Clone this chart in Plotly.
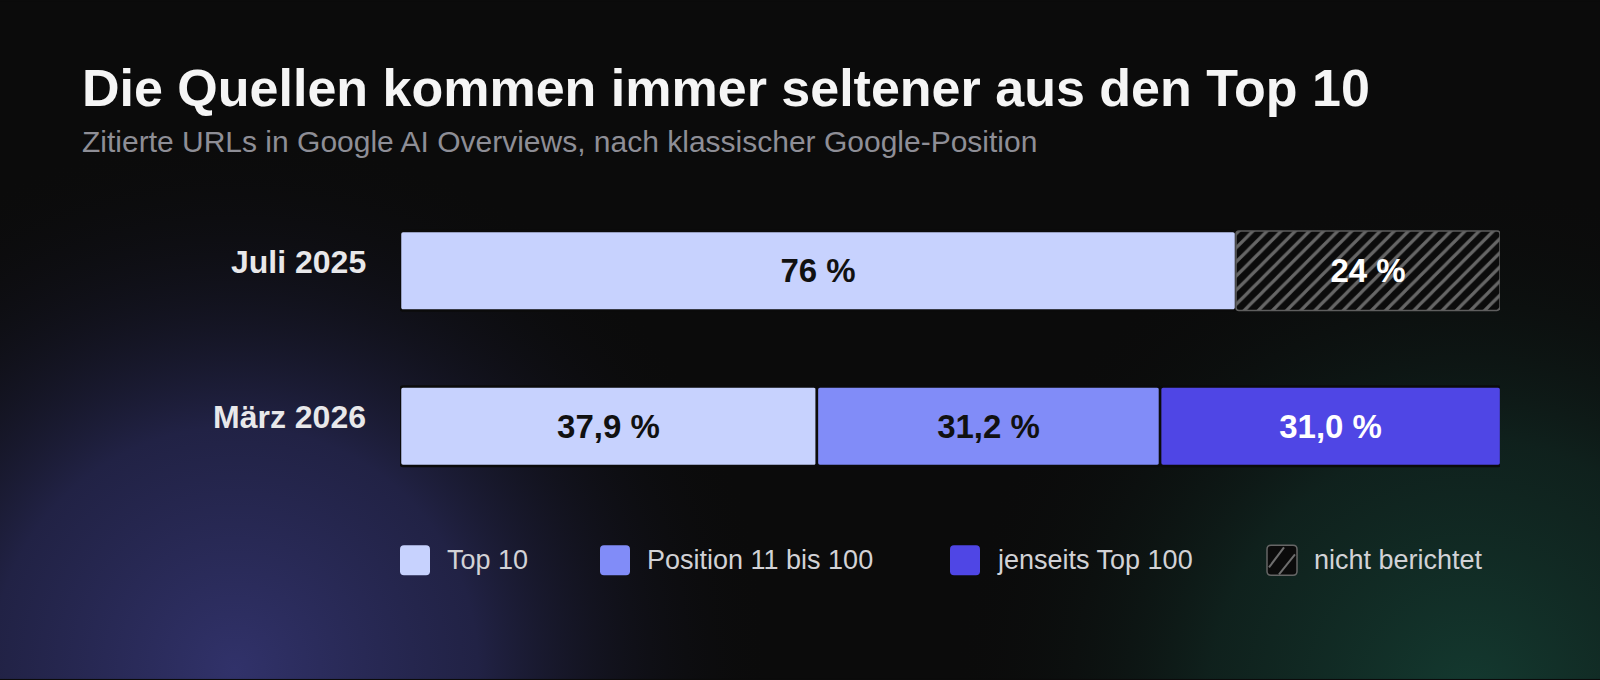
import base64
import numpy as np
import plotly.graph_objects as go

# ---------------- data ----------------
periods = ["Juli 2025", "März 2026"]
top10 = [76.0, 37.9]
pos_11_100 = [0.0, 31.2]
beyond_100 = [0.0, 31.0]
not_reported = [24.0, 0.0]
decimals = [0, 1]  # how each row's values are printed

series_names = ["Top 10", "Position 11 bis 100", "jenseits Top 100", "nicht berichtet"]
series_colors = ["#c7d2fe", "#818cf8", "#4f46e5", "#0b0b0b"]
text_colors = ["#111111", "#111111", "#ffffff", "#ffffff"]

title_text = "Die Quellen kommen immer seltener aus den Top 10"
subtitle_text = "Zitierte URLs in Google AI Overviews, nach klassischer Google-Position"

# ---------------- geometry ----------------
W, H = 1600, 680
PL, PR = 400, 1500          # plot area left/right in px
PT, PB = 192.5, 504.5       # plot area top/bottom in px
BG = "#0b0b0b"
FONT = "Liberation Sans, Arial, Helvetica, sans-serif"


def px_x(px):
    return (px - PL) / (PR - PL)


def px_y(py):
    return (PB - py) / (PB - PT)


def fmt(v, d):
    return (f"{v:.{d}f}".replace(".", ",")) + " %"


values = [np.array(top10), np.array(pos_11_100), np.array(beyond_100), np.array(not_reported)]
bases = [np.zeros(2)]
for v in values[:-1]:
    bases.append(bases[-1] + v)

fig = go.Figure()
for i, (name, vals, base) in enumerate(zip(series_names, values, bases)):
    mask = vals > 0
    ys = [p for p, m in zip(periods, mask) if m]
    xs = vals[mask]
    bs = base[mask]
    texts = [fmt(v, d) for v, d, m in zip(vals, decimals, mask) if m]
    if name == "nicht berichtet":
        marker = dict(
            color=BG,
            pattern=dict(shape="/", fgcolor="#666666", bgcolor=BG, size=10, solidity=0.32,
                         fgopacity=1),
            line=dict(color="#5e5e5e", width=1.5),
            cornerradius=3,
        )
    else:
        marker = dict(color=series_colors[i], line=dict(color=BG, width=2.5), cornerradius=3)
    fig.add_trace(go.Bar(
        y=ys, x=xs, base=bs, orientation="h", name=name,
        marker=marker, width=0.51,
        text=texts, textposition="inside", insidetextanchor="middle",
        textangle=0, constraintext="none",
        textfont=dict(family=FONT, size=33, color=text_colors[i], weight="bold"),
        showlegend=False, hoverinfo="skip",
    ))

# ---------------- background glow ----------------
svg = f"""<svg xmlns='http://www.w3.org/2000/svg' width='{W}' height='{H}' viewBox='0 0 {W} {H}'>
<defs>
<radialGradient id='p' cx='235' cy='670' r='540' gradientUnits='userSpaceOnUse'>
<stop offset='0' stop-color='#31326a' stop-opacity='1'/>
<stop offset='0.45' stop-color='#25264f' stop-opacity='0.85'/>
<stop offset='1' stop-color='#0b0b0b' stop-opacity='0'/>
</radialGradient>
<radialGradient id='g' cx='1470' cy='700' r='520' gradientUnits='userSpaceOnUse'>
<stop offset='0' stop-color='#143a30' stop-opacity='1'/>
<stop offset='0.5' stop-color='#112a24' stop-opacity='0.7'/>
<stop offset='1' stop-color='#0b0b0b' stop-opacity='0'/>
</radialGradient>
</defs>
<rect width='{W}' height='{H}' fill='{BG}'/>
<rect width='{W}' height='{H}' fill='url(#p)'/>
<rect width='{W}' height='{H}' fill='url(#g)'/>
</svg>"""
src = "data:image/svg+xml;base64," + base64.b64encode(svg.encode()).decode()
fig.add_layout_image(dict(
    source=src, xref="paper", yref="paper",
    x=px_x(0), y=px_y(0), sizex=W / (PR - PL), sizey=H / (PB - PT),
    xanchor="left", yanchor="top", sizing="stretch", layer="below",
))

# ---------------- titles ----------------
annotations = [
    dict(text=f"<b>{title_text}</b>", x=px_x(80), y=px_y(87), xref="paper", yref="paper",
         xanchor="left", yanchor="middle", showarrow=False,
         font=dict(family=FONT, size=52, color="#f5f5f5")),
    dict(text=subtitle_text, x=px_x(80), y=px_y(141), xref="paper", yref="paper",
         xanchor="left", yanchor="middle", showarrow=False,
         font=dict(family=FONT, size=30, color="#8e8e96")),
]

# ---------------- category labels (slightly above bar centre) ----------------
for p in periods:
    annotations.append(dict(text=f"<b>{p}</b>", x=px_x(368), y=p, xref="paper", yref="y",
                            xanchor="right", yanchor="middle", yshift=9, showarrow=False,
                            font=dict(family=FONT, size=32, color="#e8e8ea")))

# ---------------- manual legend ----------------
legend_x = [400, 600, 950, 1267]
legend_cy = 561
sq = 30
shapes = []


def rrect(x0, y0, x1, y1, r):
    # rounded rect path in paper coords from px values
    rx = r / (PR - PL)
    ry = r / (PB - PT)
    X0, X1 = px_x(x0), px_x(x1)
    Y0, Y1 = px_y(y1), px_y(y0)  # bottom, top in paper
    return (f"M {X0+rx},{Y0} L {X1-rx},{Y0} Q {X1},{Y0} {X1},{Y0+ry} "
            f"L {X1},{Y1-ry} Q {X1},{Y1} {X1-rx},{Y1} L {X0+rx},{Y1} "
            f"Q {X0},{Y1} {X0},{Y1-ry} L {X0},{Y0+ry} Q {X0},{Y0} {X0+rx},{Y0} Z")


for i, (name, lx) in enumerate(zip(series_names, legend_x)):
    y0, y1 = legend_cy - sq / 2, legend_cy + sq / 2
    if name == "nicht berichtet":
        shapes.append(dict(type="path", path=rrect(lx, y0, lx + sq, y1, 4), xref="paper", yref="paper",
                           fillcolor=BG, line=dict(color="#666666", width=1.5), layer="above"))
        for (ax, ay, bx, by) in [(lx + 2, y1 - 8, lx + 17, y0 + 2), (lx + 12, y1 - 1, lx + sq - 2, y0 + 9)]:
            shapes.append(dict(type="line", x0=px_x(ax), y0=px_y(ay), x1=px_x(bx), y1=px_y(by),
                               xref="paper", yref="paper", line=dict(color="#6e6e6e", width=2),
                               layer="above"))
    else:
        shapes.append(dict(type="path", path=rrect(lx, y0, lx + sq, y1, 4), xref="paper", yref="paper",
                           fillcolor=series_colors[i], line=dict(width=0), layer="above"))
    annotations.append(dict(text=name, x=px_x(lx + sq + 15), y=px_y(legend_cy), xref="paper",
                            yref="paper", xanchor="left", yanchor="middle", showarrow=False,
                            font=dict(family=FONT, size=27, color="#d2d2d6")))

fig.update_layout(
    width=W, height=H,
    margin=dict(l=PL, r=W - PR, t=PT, b=H - PB, pad=0),
    paper_bgcolor=BG, plot_bgcolor="rgba(0,0,0,0)",
    barmode="overlay",
    xaxis=dict(range=[0, 100], visible=False, fixedrange=True),
    yaxis=dict(type="category", categoryorder="array", categoryarray=periods,
               range=[1.5, -0.5], showgrid=False, zeroline=False, showline=False,
               ticks="", showticklabels=False),
    annotations=annotations, shapes=shapes,
    showlegend=False,
    uniformtext=dict(mode=False),
)

fig.write_html("out.html", config={"displayModeBar": False},
               post_script="document.body.style.margin='0';document.body.style.overflow='hidden';")
